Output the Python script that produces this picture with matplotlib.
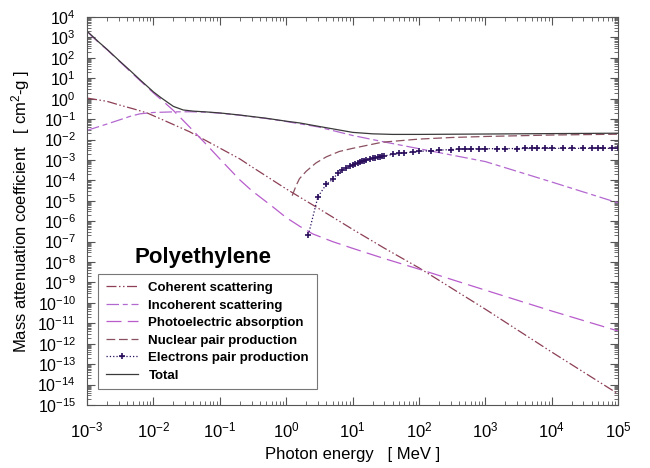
import numpy as np
import matplotlib
matplotlib.use("Agg")
import matplotlib.pyplot as plt
from matplotlib.ticker import LogLocator, NullFormatter

plt.rcParams['font.family'] = ['Liberation Sans', 'DejaVu Sans']
plt.rcParams['mathtext.fontset'] = 'custom'
plt.rcParams['mathtext.rm'] = 'Liberation Sans'
plt.rcParams['mathtext.it'] = 'Liberation Sans:italic'
plt.rcParams['mathtext.bf'] = 'Liberation Sans:bold'
plt.rcParams['mathtext.default'] = 'regular'
plt.rcParams['axes.unicode_minus'] = False

# photon energies [MeV] and mass attenuation coefficients
total_e = [1e-3, 1.5e-3, 2e-3, 3e-3, 4.5e-3, 6.3e-3, 1e-2, 1.26e-2, 1.6e-2,
           2e-2, 2.8e-2, 4e-2, 6.3e-2, 0.1, 0.2, 0.5, 1, 1.6, 3, 10, 20, 40,
           100, 1e3, 1e4, 1e5]
total_mu = [2.0e3, 5.9e2, 2.6e2, 7.6e1, 2.3e1, 8.3, 2.14, 1.2, 0.69, 0.417,
            0.28, 0.245, 0.224, 0.20, 0.158, 0.11, 0.079, 0.0646, 0.0447,
            0.0224, 0.019, 0.0178, 0.0178, 0.0186, 0.0195, 0.0204]

coh_e = [1e-3, 2e-3, 3e-3, 5e-3, 8e-3, 1.26e-2, 2e-2, 3.5e-2, 0.1, 0.2, 0.3,
         1, 3, 10, 30, 100, 1e3, 1e4, 1e5]
coh_mu = [1.07, 0.74, 0.5, 0.316, 0.2, 0.105, 0.054, 0.024, 3.8e-3, 1.12e-3,
          4.7e-4, 3.8e-5, 4.4e-6, 4.0e-7, 4.8e-8, 5.2e-9, 4.9e-11, 3.9e-13,
          3.5e-15]

incoh_e = [1e-3, 1.5e-3, 2e-3, 3e-3, 4.5e-3, 6.3e-3, 1e-2, 2e-2, 3.5e-2,
           6.3e-2, 0.1, 0.2, 0.5, 1, 3, 10, 30, 100, 1e3, 1e4, 1e5]
incoh_mu = [0.0282, 0.0427, 0.0575, 0.089, 0.138, 0.182, 0.211, 0.226, 0.229,
            0.219, 0.195, 0.155, 0.107, 0.076, 0.0417, 0.0158, 7.6e-3, 3.55e-3,
            8.3e-4, 8.3e-5, 7.9e-6]

photo_e = [1e-3, 1.5e-3, 2e-3, 3e-3, 4.5e-3, 6.3e-3, 1e-2, 1.4e-2, 2e-2,
           3.5e-2, 6.3e-2, 0.1, 0.2, 0.3, 0.63, 1, 1.6, 2.5, 5, 10, 30, 100,
           1e3, 1e4, 1e5]
photo_mu = [1.95e3, 5.5e2, 2.5e2, 7.2e1, 2.1e1, 7.6, 1.9, 0.74, 0.263, 0.041,
            5.6e-3, 1.12e-3, 1.05e-4, 3.2e-5, 5.0e-6, 1.5e-6, 5.6e-7, 2.4e-7,
            1.0e-7, 4.7e-8, 1.48e-8, 4.5e-9, 4.2e-10, 4.0e-11, 4.2e-12]

nuc_e = [1.23, 1.41, 1.58, 2, 2.8, 4, 6.3, 10, 28, 100, 316, 1e3, 1e4, 1e5]
nuc_mu = [1.78e-5, 5.6e-5, 1.2e-4, 2.8e-4, 7.1e-4, 1.41e-3, 2.6e-3, 3.7e-3,
          7.4e-3, 1.05e-2, 1.26e-2, 1.41e-2, 1.66e-2, 1.82e-2]

el_e = [2.15, 3, 4, 5, 6, 7, 8, 9, 10, 11, 12, 13, 14, 15, 16, 18, 20, 22, 24,
        26, 28, 30, 40, 50, 60, 80, 100, 150, 200, 300, 400, 500, 600, 800,
        1000, 1500, 2000, 3000, 4000, 5000, 6000, 8000, 1e4, 1.5e4, 2e4, 3e4,
        4e4, 5e4, 6e4, 8e4, 1e5]
el_mu = [2.1e-7, 1.58e-5, 6.3e-5, 1.12e-4, 2.24e-4, 3.16e-4, 4.0e-4, 4.8e-4,
         5.6e-4, 6.5e-4, 7.2e-4, 7.9e-4, 8.7e-4, 9.3e-4, 1.0e-3, 1.1e-3,
         1.2e-3, 1.29e-3, 1.38e-3, 1.45e-3, 1.51e-3, 1.58e-3, 1.86e-3,
         2.09e-3, 2.24e-3, 2.45e-3, 2.63e-3, 2.82e-3, 3.0e-3, 3.24e-3, 3.4e-3,
         3.47e-3, 3.5e-3, 3.52e-3, 3.55e-3, 3.58e-3, 3.6e-3, 3.62e-3, 3.64e-3,
         3.65e-3, 3.66e-3, 3.68e-3, 3.7e-3, 3.7e-3, 3.7e-3, 3.7e-3, 3.7e-3,
         3.7e-3, 3.7e-3, 3.7e-3, 3.7e-3]

x_decades = list(range(-3, 6))
y_decades = list(range(-15, 5))

fig = plt.figure(figsize=(6.5, 4.68), dpi=100)
ax = fig.add_axes([0.134, 0.1346, 0.817, 0.8291])

ax.plot(coh_e, coh_mu, color="#8c3f55", lw=0.9, dashes=[8, 2, 1.2, 2, 1.2, 2],
        label="Coherent scattering")
ax.plot(incoh_e, incoh_mu, color="#b368d0", lw=0.9, dashes=[10, 3, 4, 3],
        label="Incoherent scattering")
ax.plot(photo_e, photo_mu, color="#b85ccc", lw=0.9, dashes=[12, 5],
        label="Photoelectric absorption")
ax.plot(nuc_e, nuc_mu, color="#8a5060", lw=0.9, dashes=[7, 3],
        label="Nuclear pair production")
ax.plot(el_e, el_mu, color="#2a0e5c", lw=0.9, ls=":", marker="+", ms=4,
        mew=1.2, label="Electrons pair production")
ax.plot(total_e, total_mu, color="#3a3a3a", lw=0.9, label="Total")

ax.set_xscale("log")
ax.set_yscale("log")
ax.set_xlim(1e-3, 1e5)
ax.set_ylim(1e-15, 1e4)

ax.set_xticks([10.0 ** k for k in x_decades],
              [f"$10^{{{k}}}$" for k in x_decades])
ax.set_yticks([10.0 ** k for k in y_decades],
              [f"$10^{{{k}}}$" for k in y_decades])
ax.xaxis.set_minor_locator(LogLocator(base=10, subs=range(2, 10), numticks=100))
ax.yaxis.set_minor_locator(LogLocator(base=10, subs=range(2, 10), numticks=300))
ax.xaxis.set_minor_formatter(NullFormatter())
ax.yaxis.set_minor_formatter(NullFormatter())

ax.tick_params(which="both", direction="in", top=True, right=True,
               colors="#555555", labelcolor="black", labelsize=12)
ax.tick_params(which="major", length=6, width=0.8)
ax.tick_params(which="minor", length=3, width=0.6)
ax.tick_params(axis="x", pad=11)
ax.tick_params(axis="y", pad=8, labelsize=11.5)
for s in ax.spines.values():
    s.set_color("#555555")
    s.set_linewidth(0.8)

ax.set_xlabel("Photon energy   [ MeV ]", fontsize=12, labelpad=5)
ax.set_ylabel("Mass attenuation coefficient   [ cm$^2$-g ]", fontsize=12,
              labelpad=4)

ax.text(0.218, 0.381, "Polyethylene", transform=ax.transAxes, fontsize=16,
        fontweight="bold", ha="center", va="center")

leg = ax.legend(loc="upper left", bbox_to_anchor=(0.021, 0.338),
                prop={"weight": "bold", "size": 9.5}, handlelength=2.4,
                labelspacing=0.4, borderpad=0.6, fancybox=False, framealpha=1,
                edgecolor="#777777", borderaxespad=0, numpoints=1)
leg.get_frame().set_linewidth(0.8)

fig.savefig("out.png", dpi=100)
